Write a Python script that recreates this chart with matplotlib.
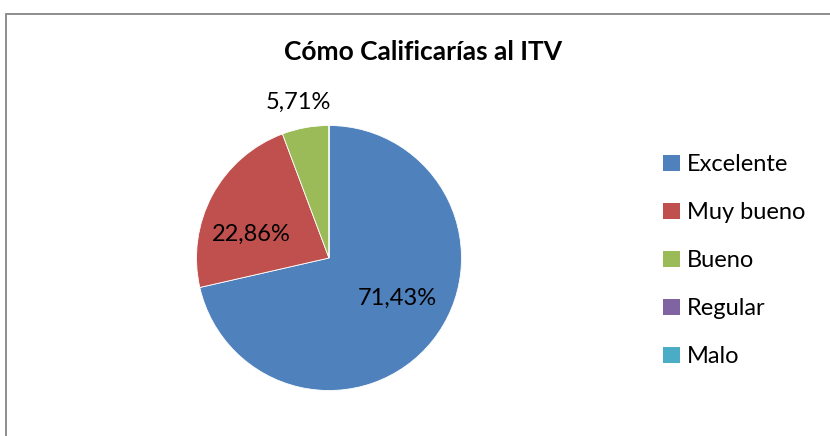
import numpy as np
import matplotlib.pyplot as plt
from matplotlib.patches import Rectangle, Patch

# chart data
categories = ["Excelente", "Muy bueno", "Bueno", "Regular", "Malo"]
percents = [71.43, 22.86, 5.71, 0.0, 0.0]
colors = ["#4F81BD", "#C0504D", "#9BBB59", "#8064A2", "#4BACC6"]
title = "Cómo Calificarías al ITV"

W, H = 830, 436
plt.rcParams['font.family'] = ['Lato', 'DejaVu Sans']

fig = plt.figure(figsize=(W / 100, H / 100), dpi=100)

# chart frame
fig.patches.append(Rectangle((6 / W, -0.1), 1.1, 1 - 14 / H + 0.1,
                             transform=fig.transFigure, fill=False,
                             edgecolor="#868686", linewidth=1.3))

# pie axes, placed in pixels
cx, cy, r = 329, 258, 132.5
ax = fig.add_axes([(cx - r) / W, (H - cy - r) / H, 2 * r / W, 2 * r / H])
wedges, _ = ax.pie(percents, colors=colors, startangle=90, counterclock=False,
                   radius=1, wedgeprops=dict(linewidth=0.6, edgecolor="white"))
ax.set_xlim(-1, 1)
ax.set_ylim(-1, 1)
ax.set_aspect('auto')
ax.axis('off')

# data labels: distance from centre and angle shift (deg) from wedge middle
dist = [0.6, 0.61, 1.2]
shift = [8, 11.5, 1]
for w, p, d, s in zip(wedges, percents, dist, shift):
    ang = np.deg2rad((w.theta1 + w.theta2) / 2 + s)
    ax.text(d * np.cos(ang), d * np.sin(ang), f"{p:.2f}%".replace('.', ','),
            ha='center', va='center', fontsize=17, color="black", clip_on=False)

fig.text(423 / W, 1 - 52 / H, title, ha='center', va='center',
         fontsize=19, fontweight='bold')

handles = [Patch(facecolor=c, edgecolor='none') for c in colors]
fig.legend(handles, categories, loc='upper left',
           bbox_to_anchor=(654 / W, 1 - 145 / H), frameon=False,
           fontsize=17, handlelength=0.68, handleheight=0.68,
           handletextpad=0.3, labelspacing=1.14, borderaxespad=0)

fig.savefig("out.png", dpi=100)
